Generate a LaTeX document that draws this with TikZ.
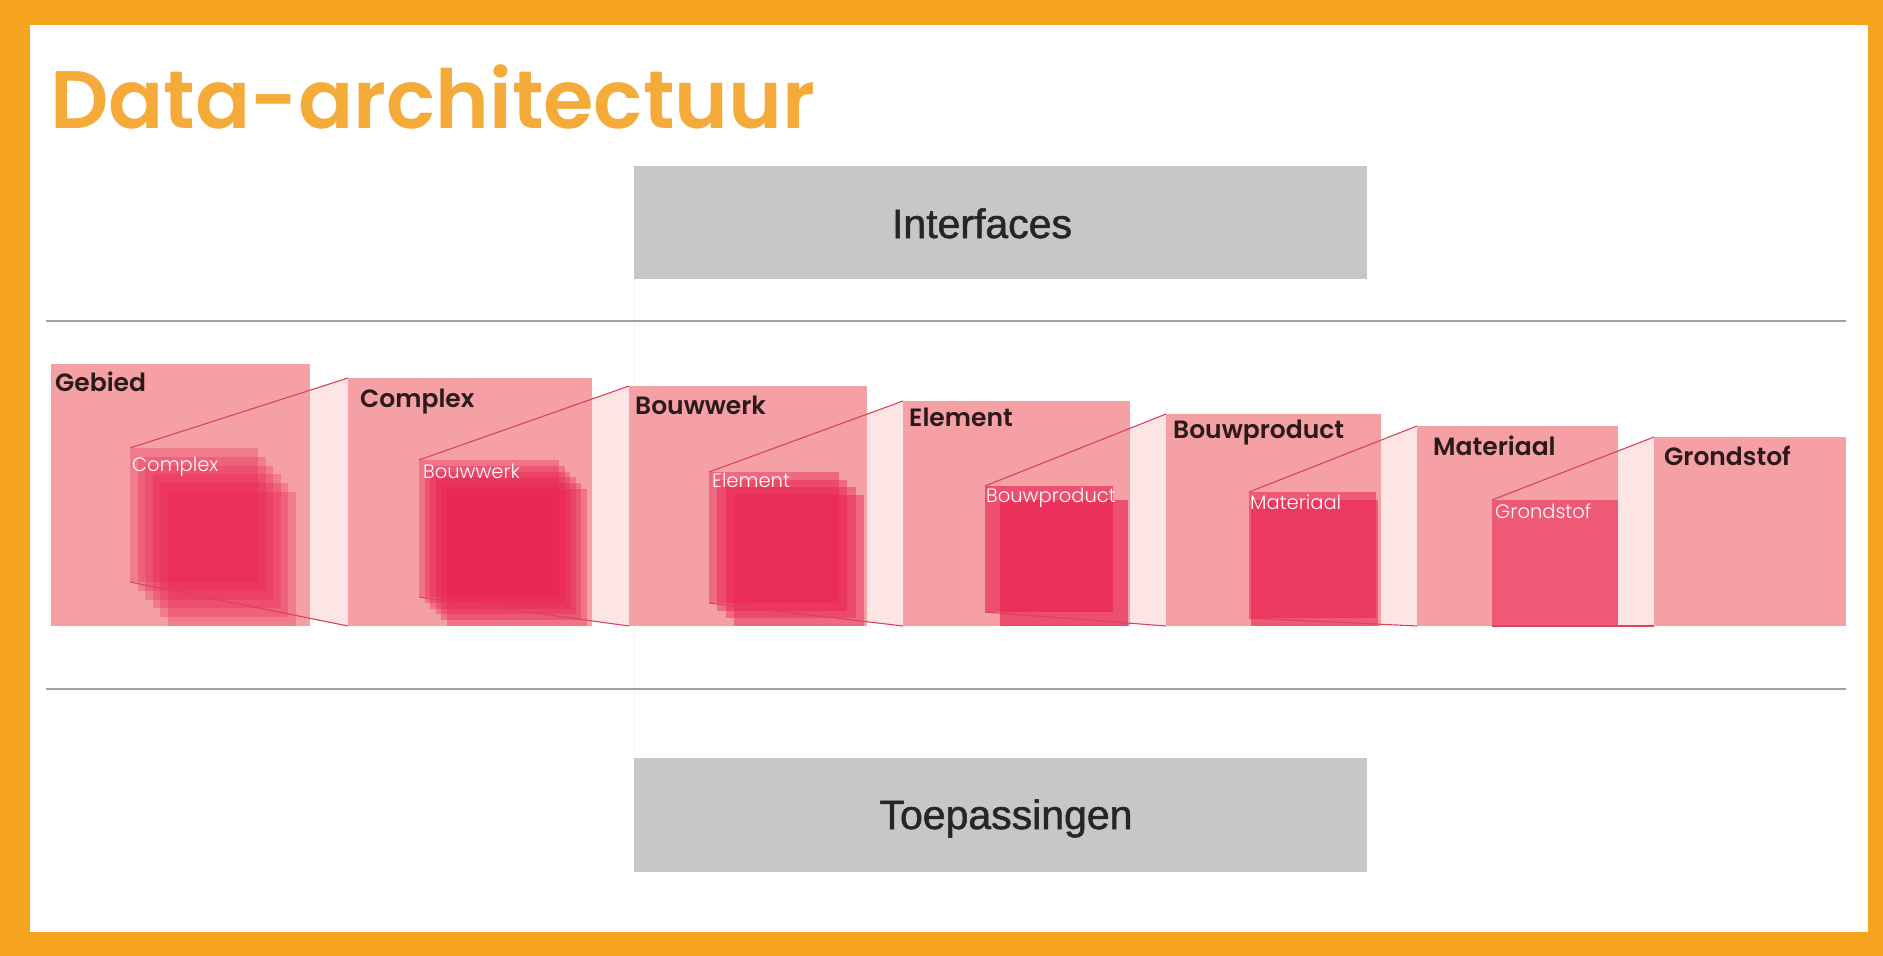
\documentclass[tikz,border=0pt]{standalone}
\usepackage{fontspec}
\setmainfont{Liberation Sans}
\newfontfamily\popsb{Poppins SemiBold}
\newfontfamily\poplt{Poppins Light}
\newfontfamily\boxfont[FakeBold=1.3]{Liberation Sans}
\definecolor{frameorange}{HTML}{F6A31F}
\definecolor{titleorange}{HTML}{F5AB3A}
\definecolor{panelpink}{HTML}{F4A0A4}
\definecolor{strippink}{HTML}{FDE5E5}
\definecolor{crim}{HTML}{EA1F4F}
\definecolor{projred}{HTML}{D8435E}
\definecolor{boxgray}{HTML}{C6C7C9}
\definecolor{labeldark}{HTML}{2A1A1C}
\definecolor{textdark}{HTML}{262626}
\definecolor{linegray}{HTML}{A3A3A3}
\tikzset{
  holder/.style={inner sep=0pt, outer sep=0pt, anchor=north west},
  strip/.style={fill=strippink},
  proj/.style={draw=projred, line width=1.1pt},
  ptitle/.style={anchor=base west, inner sep=0pt, text=labeldark, font=\popsb\fontsize{25}{25}\selectfont},
  ilabel/.style={anchor=base west, inner sep=0pt, text=white, font=\poplt\fontsize{19.5}{19.5}\selectfont},
  graybox/.style={fill=boxgray, inner sep=0pt, outer sep=0pt, anchor=north west},
  boxtext/.style={anchor=base, inner sep=0pt, text=textdark, font=\boxfont\fontsize{41}{41}\selectfont},
  sep/.style={draw=linegray, line width=2pt},
}
\newcommand\mystack[8]{%
  \foreach \k in {1,...,#7} {%
    \pgfmathsetmacro\fr{(\k-1)/max(#7-1,1)}%
    \fill[crim, fill opacity=#8] ({#1+\fr*#5},{#2+\fr*#6}) rectangle ++(#3,#4);
  }%
}
\begin{document}
\begin{tikzpicture}[x=1pt,y=-1pt]
\useasboundingbox (0,0) rectangle (1883,956);
% frame
\fill[frameorange] (0,0) rectangle (1883,956);
\fill[white] (30,25) rectangle (1868,932);
% title
\node[anchor=base west, inner sep=0pt, text=titleorange, font=\popsb\fontsize{81.5}{81.5}\selectfont] (title) at (50,128) {Data-architectuur};
% faint vertical
\coordinate (v1) at (634,279);
\coordinate (v2) at (634,758);
\draw[black!4, line width=1pt] (v1) -- (v2);
% separators
\coordinate (l1a) at (46,321); \coordinate (l1b) at (1846,321);
\coordinate (l2a) at (46,689); \coordinate (l2b) at (1846,689);
\draw[sep] (l1a) -- (l1b);
\draw[sep] (l2a) -- (l2b);
% gray boxes
\node[graybox, minimum width=733pt, minimum height=113pt] (ifbox) at (634,166) {};
\node[boxtext] (iftext) at (982,238) {Interfaces};
\node[graybox, minimum width=733pt, minimum height=114pt] (tpbox) at (634,758) {};
\node[boxtext] (tptext) at (1006,829) {Toepassingen};
% panel holders
\foreach \n/\x/\y/\w/\h in {1/51/364/259/262, 2/348/378/244/248, 3/629/386/238/240, 4/903/401/227/225, 5/1166/414/215/212, 6/1417/426/201/200, 7/1654/437/192/189}
  \node[holder, minimum width=\w pt, minimum height=\h pt] (p\n) at (\x,\y) {};
% front squares
\foreach \n/\x/\y/\w/\h in {1/130/448/128/134, 2/419/460/140/137, 3/709/472/130/131, 4/985/486/128/126, 5/1249/492/127/126, 6/1492/500/126/126}
  \node[holder, minimum width=\w pt, minimum height=\h pt] (f\n) at (\x,\y) {};
% strips
\foreach \i in {1,...,6} {
  \pgfmathtruncatemacro\j{\i+1}
  \fill[strip] (f\i.north west) -- (p\j.north west) -- (p\j.south west) -- (f\i.south west) -- cycle;
}
% panels
\foreach \n in {1,...,7}
  \fill[panelpink] (p\n.north west) rectangle (p\n.south east);
% stacks
\mystack{130}{448}{128}{134}{38}{44}{6}{0.28}
\mystack{419}{460}{140}{137}{28}{29}{6}{0.34}
\mystack{709}{472}{130}{131}{25}{23}{4}{0.42}
\mystack{985}{486}{128}{126}{15}{14}{2}{0.62}
\mystack{1249}{492}{127}{126}{2}{8}{2}{0.55}
\mystack{1492}{500}{126}{126}{0}{0}{1}{0.55}
% projection lines
\foreach \i in {1,...,6} {
  \pgfmathtruncatemacro\j{\i+1}
  \draw[proj] (f\i.north west) -- (p\j.north west);
  \draw[proj] (f\i.south west) -- (p\j.south west);
}
% panel titles
\node[ptitle] (t1) at (55,391) {Gebied};
\node[ptitle] (t2) at (360,407) {Complex};
\node[ptitle] (t3) at (635,414) {Bouwwerk};
\node[ptitle] (t4) at (909,426) {Element};
\node[ptitle] (t5) at (1173,438) {Bouwproduct};
\node[ptitle] (t6) at (1433,455) {Materiaal};
\node[ptitle] (t7) at (1664,465) {Grondstof};
% inner labels
\node[ilabel] (i1) at (132,471) {Complex};
\node[ilabel] (i2) at (423,478) {Bouwwerk};
\node[ilabel] (i3) at (712,487) {Element};
\node[ilabel] (i4) at (986,502) {Bouwproduct};
\node[ilabel] (i5) at (1250,509) {Materiaal};
\node[ilabel] (i6) at (1495,518) {Grondstof};
\end{tikzpicture}
\end{document}
